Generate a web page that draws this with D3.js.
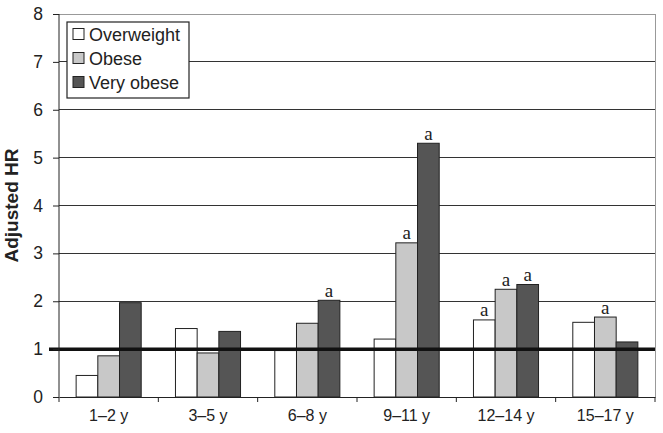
<!DOCTYPE html>
<html><head><meta charset="utf-8">
<script src="https://cdn.jsdelivr.net/npm/d3@7"></script>
<style>body{margin:0;background:#fff}svg{display:block}</style>
</head><body>
<script>
const categories = ["1–2 y","3–5 y","6–8 y","9–11 y","12–14 y","15–17 y"];
const seriesNames = ["Overweight","Obese","Very obese"];
const overweight = [0.45,1.43,0.97,1.21,1.61,1.56];
const obese = [0.86,0.92,1.54,3.22,2.25,1.67];
const veryObese = [1.97,1.37,2.02,5.30,2.35,1.15];
const sigOverweight = [false,false,false,false,true,false];
const sigObese = [false,false,false,true,true,true];
const sigVeryObese = [false,false,true,true,true,false];
const yTicks = [0,1,2,3,4,5,6,7,8];
const referenceValue = 1;

const W=663,H=433;
const m={left:59,right:8,top:14,bottom:36};
const svg=d3.select("body").append("svg").attr("width",W).attr("height",H);
const x0=d3.scaleBand().domain(categories).range([m.left,W-m.right]).paddingInner(0).paddingOuter(0);
const x1=d3.scaleBand().domain(seriesNames).range([0,x0.bandwidth()]).paddingInner(0).paddingOuter(0.79);
const y=d3.scaleLinear().domain([0,8]).range([H-m.bottom,m.top]);
const colors=["#ffffff","#c8c8c8","#555555"];
const series=[overweight,obese,veryObese];
const sigs=[sigOverweight,sigObese,sigVeryObese];

// gridlines
svg.append("g").selectAll("line").data(yTicks.filter(d=>d>0)).join("line")
 .attr("x1",m.left).attr("x2",W-m.right).attr("y1",d=>y(d)).attr("y2",d=>y(d))
 .attr("stroke",d=>d===8?"#999":"#333").attr("stroke-width",1).attr("shape-rendering","crispEdges");
// right border
svg.append("line").attr("x1",W-m.right).attr("x2",W-m.right).attr("y1",y(8)).attr("y2",y(0))
 .attr("stroke","#999").attr("shape-rendering","crispEdges");

// bars
const g=svg.append("g");
series.forEach((vals,si)=>{
  g.append("g").selectAll("rect").data(vals).join("rect")
   .attr("x",(d,i)=>x0(categories[i])+x1(seriesNames[si]))
   .attr("width",x1.bandwidth())
   .attr("y",d=>y(d)).attr("height",d=>y(0)-y(d))
   .attr("fill",colors[si]).attr("stroke","#222").attr("stroke-width",1);
  g.append("g").selectAll("text").data(vals.map((v,i)=>({v,i})).filter(d=>sigs[si][d.i])).join("text")
   .attr("x",d=>x0(categories[d.i])+x1(seriesNames[si])+x1.bandwidth()/2)
   .attr("y",d=>y(d.v)-3.5)
   .attr("text-anchor","middle").attr("font-family","Liberation Serif, Times New Roman, serif")
   .attr("font-size",19).attr("fill","#222").text("a");
});

// reference line
svg.append("line").attr("x1",49).attr("x2",W-m.right).attr("y1",y(referenceValue)).attr("y2",y(referenceValue))
 .attr("stroke","#111").attr("stroke-width",3.5);

// y axis
const ya=svg.append("g").attr("transform",`translate(${m.left},0)`)
 .call(d3.axisLeft(y).tickValues(yTicks).tickSize(6).tickPadding(10).tickFormat(d3.format("d")));
ya.select(".domain").attr("stroke","#222").attr("d",`M-0,${y(0)}V${y(8)}`);
ya.selectAll(".tick line").attr("stroke","#222");
ya.selectAll("text").attr("font-family","Liberation Sans, Arial, sans-serif").attr("font-size",17.5).attr("fill","#222");

// x axis
const xa=svg.append("g").attr("transform",`translate(0,${y(0)})`)
 .call(d3.axisBottom(x0).tickSize(0).tickPadding(13));
xa.select(".domain").attr("stroke","#222");
xa.selectAll("text").attr("font-family","Liberation Sans, Arial, sans-serif").attr("font-size",16).attr("fill","#222");
svg.append("g").selectAll("line").data(categories.concat(["end"])).join("line")
 .attr("x1",(d,i)=>i<categories.length?x0(d):W-m.right).attr("x2",(d,i)=>i<categories.length?x0(d):W-m.right)
 .attr("y1",y(0)).attr("y2",y(0)+5).attr("stroke","#222");

// y title
svg.append("text").attr("transform",`translate(18,${(y(0)+y(8))/2}) rotate(-90)`)
 .attr("text-anchor","middle").attr("font-family","Liberation Sans, Arial, sans-serif")
 .attr("font-weight","bold").attr("font-size",19).attr("fill","#222").text("Adjusted HR");

// legend
const lg=svg.append("g").attr("transform","translate(67,22)");
lg.append("rect").attr("width",122).attr("height",76).attr("fill","#fff").attr("stroke","#222").attr("stroke-width",1.2);
seriesNames.forEach((n,i)=>{
  const row=lg.append("g").attr("transform",`translate(6,${12+i*24})`);
  row.append("rect").attr("x",0).attr("y",-5.5).attr("width",11).attr("height",11).attr("fill",colors[i]).attr("stroke","#222");
  row.append("text").attr("x",16).attr("y",6.5).attr("font-family","Liberation Sans, Arial, sans-serif")
   .attr("font-size",18).attr("fill","#222").text(n);
});
</script>
</body></html>
